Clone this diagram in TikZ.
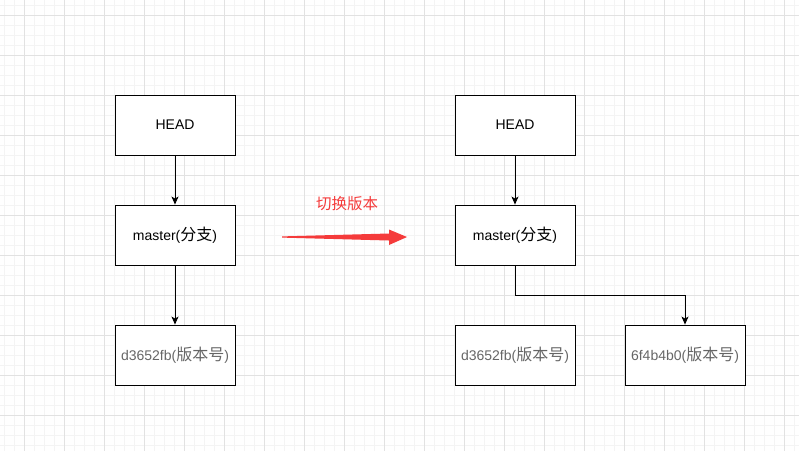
\documentclass[tikz,border=0pt]{standalone}
\usepackage{fontspec}
\setmainfont{Liberation Sans}
\newfontfamily\cjkraw{Noto Sans CJK SC}
\newcommand\cjk{\cjkraw\fontsize{16}{17}\selectfont}
\usetikzlibrary{arrows.meta}
\definecolor{minorgrid}{HTML}{F4F4F4}
\definecolor{majorgrid}{HTML}{E2E2E2}
\definecolor{redarrow}{HTML}{F53B3B}
\definecolor{greytext}{HTML}{666666}
\tikzset{
  box/.style={draw=black, line width=0.9pt, fill=white, minimum width=120pt, minimum height=60pt, inner sep=0pt, font=\fontsize{14}{16}\selectfont},
  verbox/.style={box, text=greytext},
  conn/.style={draw=black, line width=0.9pt, -{Stealth[length=8pt,width=7pt,inset=2pt]}},
}
\begin{document}
\begin{tikzpicture}[x=1pt,y=-1pt]
\useasboundingbox (0,0) rectangle (799,451);
\fill[white] (0,0) rectangle (799,451);
% minor grid
\foreach \x in {4,14,...,794} \draw[minorgrid, line width=0.8pt] (\x,0) -- (\x,451);
\foreach \y in {5,15,...,445} \draw[minorgrid, line width=0.8pt] (0,\y) -- (799,\y);
% major grid
\foreach \x in {24,64,...,784} \draw[majorgrid, line width=0.8pt] (\x,0) -- (\x,451);
\foreach \y in {15,55,...,445} \draw[majorgrid, line width=0.8pt] (0,\y) -- (799,\y);

% left
\node[box] (headL) at (175,125) {HEAD};
\node[box] (masterL) at (175,235) {master({\cjk 分支})};
\node[verbox] (verL) at (175,355) {d3652fb({\cjk 版本号})};
\draw[conn] (headL) -- (masterL);
\draw[conn] (masterL) -- (verL);

% right
\node[box] (headR) at (515,125) {HEAD};
\node[box] (masterR) at (515,235) {master({\cjk 分支})};
\node[verbox] (verR1) at (515,355) {d3652fb({\cjk 版本号})};
\node[verbox] (verR2) at (685,355) {6f4b4b0({\cjk 版本号})};
\draw[conn] (headR) -- (masterR);
\draw[conn] (masterR.south) -- (515,295) -- (685,295) -- (verR2.north);

% switch arrow
\node[text=redarrow, font=\cjkraw\fontsize{15.5}{17}\selectfont] (lbl) at (347,204) {切换版本};
\coordinate (atail) at (282,237);
\coordinate (ahead) at (407,237);
\fill[redarrow] (282,236.4) -- (389,233.5) -- (389,229.5) -- (ahead) -- (389,245) -- (389,240.5) -- (282,237.6) -- cycle;
\end{tikzpicture}
\end{document}
